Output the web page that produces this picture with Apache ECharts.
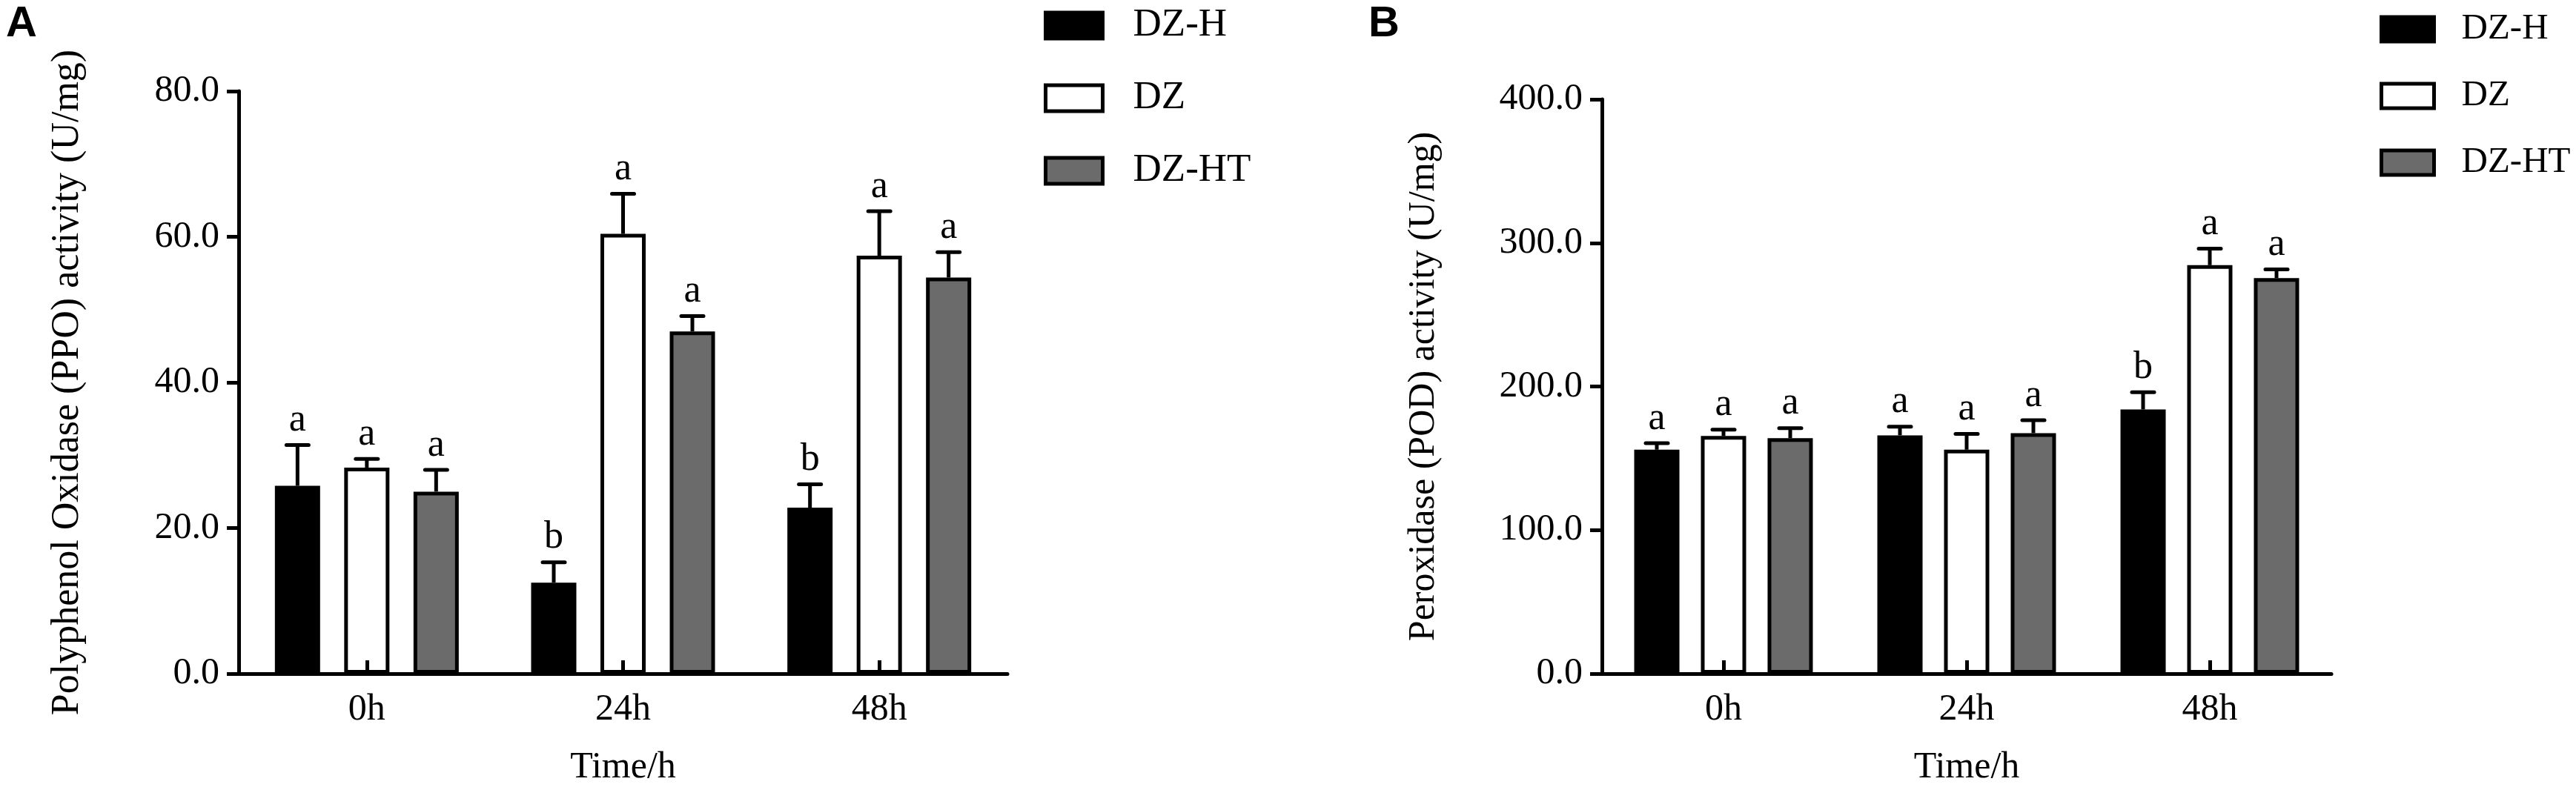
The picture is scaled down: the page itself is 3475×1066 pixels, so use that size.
<!DOCTYPE html>
<html>
<head>
<meta charset="utf-8">
<script src="https://cdn.jsdelivr.net/npm/echarts@6/dist/echarts.min.js"></script>
<style>
html,body{margin:0;padding:0;background:#fff;}
#chart{width:3475px;height:1066px;}
</style>
</head>
<body>
<div id="chart"></div>
<script>
// ---- data ----
const categories = ['0h', '24h', '48h'];
const seriesNames = ['DZ-H', 'DZ', 'DZ-HT'];

// Panel A: Polyphenol Oxidase (PPO) activity (U/mg)
const ppoDZH = [25.8, 12.5, 22.8];
const ppoDZ = [28.3, 60.4, 57.4];
const ppoDZHT = [25.0, 47.0, 54.4];
const ppoErrDZH = [5.6, 2.8, 3.2];
const ppoErrDZ = [1.2, 5.5, 6.1];
const ppoErrDZHT = [3.0, 2.1, 3.5];
const ppoLetDZH = ['a', 'b', 'b'];
const ppoLetDZ = ['a', 'a', 'a'];
const ppoLetDZHT = ['a', 'a', 'a'];
const ppoTicks = [0, 80, 20];

// Panel B: Peroxidase (POD) activity (U/mg)
const podDZH = [156, 166, 184];
const podDZ = [165.5, 156, 284.5];
const podDZHT = [164, 167.5, 275.5];
const podErrDZH = [4.5, 6, 12];
const podErrDZ = [4.5, 11, 11.5];
const podErrDZHT = [7, 9, 6];
const podLetDZH = ['a', 'a', 'b'];
const podLetDZ = ['a', 'a', 'a'];
const podLetDZHT = ['a', 'a', 'a'];
const podTicks = [0, 400, 100];

// ---- styles ----
const SERIF = '"Liberation Serif", "Times New Roman", serif';
const fills = ['#000000', '#ffffff', '#6b6b6b'];
const BAR_W = 61;

const chart = echarts.init(document.getElementById('chart'));

function xAxisOf(gi) {
  return {
    type: 'category', gridIndex: gi, data: categories, z: 5,
    axisLine: { show: true, lineStyle: { color: '#000', width: 5 } },
    axisTick: { show: true, inside: true, alignWithLabel: true, length: 18, lineStyle: { color: '#000', width: 5 } },
    axisLabel: { show: true, fontSize: 50, fontFamily: SERIF, color: '#000', margin: 24 },
    splitLine: { show: false },
    name: 'Time/h', nameLocation: 'middle', nameGap: 102,
    nameTextStyle: { fontSize: 50, fontFamily: SERIF, color: '#000' }
  };
}
function yAxisOf(gi, ticks, name, gap, nameSize) {
  return {
    type: 'value', gridIndex: gi, min: ticks[0], max: ticks[1], interval: ticks[2],
    axisLine: { show: true, lineStyle: { color: '#000', width: 5 } },
    axisTick: { show: true, inside: false, length: 16, lineStyle: { color: '#000', width: 5 } },
    axisLabel: { show: true, fontSize: 50, fontFamily: SERIF, color: '#000', margin: 26,
      formatter: v => v.toFixed(1) },
    splitLine: { show: false },
    name: name, nameLocation: 'middle', nameGap: gap,
    nameTextStyle: { fontSize: nameSize, fontFamily: SERIF, color: '#000' }
  };
}

function barSeries(gi, idx, values, gap) {
  return {
    type: 'bar', name: seriesNames[idx], xAxisIndex: gi, yAxisIndex: gi,
    data: values, barWidth: BAR_W, barGap: gap, z: 2,
    itemStyle: { color: fills[idx], borderColor: '#000', borderWidth: 5 },
    emphasis: { disabled: true }, silent: true
  };
}

function errSeries(gi, idx, values, errs, letters, spacing) {
  const offset = (idx - 1) * spacing;
  return {
    type: 'custom', xAxisIndex: gi, yAxisIndex: gi, z: 4, silent: true,
    encode: { x: 0, y: 1 },
    data: values.map((v, i) => [i, v, errs[i]]),
    renderItem: function (params, api) {
      const c = api.value(0), m = api.value(1), e = api.value(2);
      const base = api.coord([c, m]);
      const top = api.coord([c, m + e]);
      const x = base[0] + offset;
      return {
        type: 'group',
        children: [
          { type: 'line', shape: { x1: x, y1: base[1], x2: x, y2: top[1] },
            style: { stroke: '#000', lineWidth: 5 } },
          { type: 'line', shape: { x1: x - 15, y1: top[1], x2: x + 15, y2: top[1] },
            style: { stroke: '#000', lineWidth: 5, lineCap: 'round' } },
          { type: 'text', x: x, y: top[1] - 7,
            style: { text: letters[params.dataIndex], font: '52px ' + SERIF, fill: '#000',
              align: 'center', verticalAlign: 'bottom' } }
        ]
      };
    }
  };
}

function legendOf(left, top, iw, ih, lh, gap, pad, fs) {
  return {
    orient: 'vertical', left: left, top: top, padding: 0,
    itemWidth: iw, itemHeight: ih, itemGap: gap, selectedMode: false,
    icon: 'rect',
    textStyle: { fontSize: fs, fontFamily: SERIF, color: '#000', lineHeight: lh, padding: [0, 0, 0, pad] },
    data: seriesNames.map((n, i) => ({
      name: n, icon: 'rect',
      itemStyle: { color: fills[i], borderColor: '#000', borderWidth: 5 }
    }))
  };
}

const SPACE_A = 93.5, SPACE_B = 90;
const gapA = ((SPACE_A - BAR_W) / BAR_W * 100).toFixed(1) + '%';
const gapB = ((SPACE_B - BAR_W) / BAR_W * 100).toFixed(1) + '%';

const option = {
  animation: false,
  backgroundColor: '#fff',
  tooltip: { show: false },
  grid: [
    { left: 322, top: 123, width: 1037, height: 790 },
    { left: 2161, top: 134, width: 984, height: 779 }
  ],
  xAxis: [xAxisOf(0), xAxisOf(1)],
  yAxis: [
    yAxisOf(0, ppoTicks, 'Polyphenol Oxidase (PPO) activity (U/mg)', 205, 52),
    yAxisOf(1, podTicks, 'Peroxidase (POD) activity (U/mg)', 215, 50)
  ],
  legend: [
    legendOf(1408, 8, 77, 35, 40, 45, 36, 53),
    legendOf(3210, 15, 71, 33, 38, 41, 32, 49)
  ],
  graphic: [
    { type: 'text', left: 8, top: 4, style: { text: 'A', font: 'bold 58px "Liberation Sans", Arial, sans-serif', fill: '#000' } },
    { type: 'text', left: 1846, top: 4, style: { text: 'B', font: 'bold 58px "Liberation Sans", Arial, sans-serif', fill: '#000' } }
  ],
  series: [
    barSeries(0, 0, ppoDZH, gapA),
    barSeries(0, 1, ppoDZ, gapA),
    barSeries(0, 2, ppoDZHT, gapA),
    errSeries(0, 0, ppoDZH, ppoErrDZH, ppoLetDZH, SPACE_A),
    errSeries(0, 1, ppoDZ, ppoErrDZ, ppoLetDZ, SPACE_A),
    errSeries(0, 2, ppoDZHT, ppoErrDZHT, ppoLetDZHT, SPACE_A),
    barSeries(1, 0, podDZH, gapB),
    barSeries(1, 1, podDZ, gapB),
    barSeries(1, 2, podDZHT, gapB),
    errSeries(1, 0, podDZH, podErrDZH, podLetDZH, SPACE_B),
    errSeries(1, 1, podDZ, podErrDZ, podLetDZ, SPACE_B),
    errSeries(1, 2, podDZHT, podErrDZHT, podLetDZHT, SPACE_B)
  ]
};
chart.setOption(option);
</script>
</body>
</html>
